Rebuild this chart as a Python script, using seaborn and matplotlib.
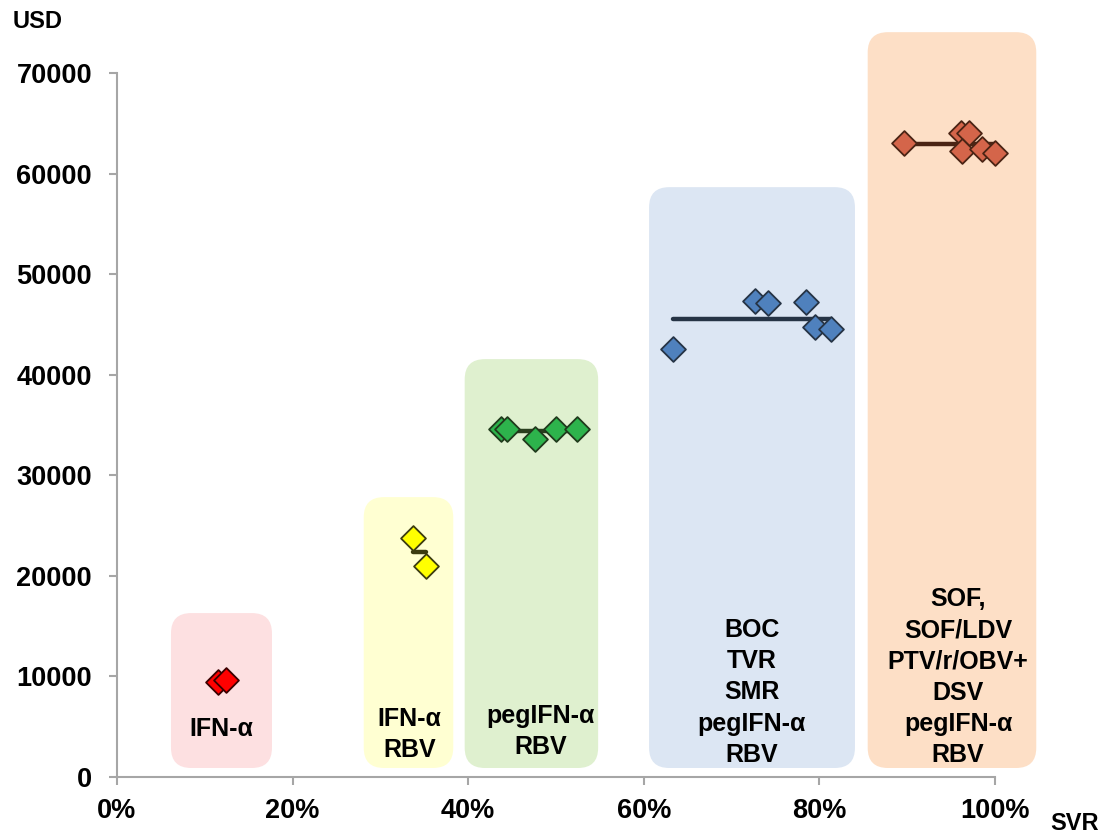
import pandas as pd
import matplotlib.pyplot as plt
import seaborn as sns
from matplotlib.patches import FancyBboxPatch
from matplotlib.ticker import PercentFormatter

# treatment groups (SVR in %, cost in USD)
groups = ['IFN', 'IFN_RBV', 'peg_RBV', 'DAA1', 'DAA2']
labels = ['IFN-α', 'IFN-α\nRBV', 'pegIFN-α\nRBV',
          'BOC\nTVR\nSMR\npegIFN-α\nRBV',
          'SOF,\nSOF/LDV\nPTV/r/OBV+\nDSV\npegIFN-α\nRBV']

svr_ifn = [11.5, 12.4]
usd_ifn = [9440, 9640]
svr_ifn_rbv = [33.7, 35.2]
usd_ifn_rbv = [23760, 20970]
svr_peg_rbv = [43.7, 44.4, 47.6, 50.0, 52.4]
usd_peg_rbv = [34590, 34590, 33600, 34590, 34590]
svr_daa1 = [63.3, 72.7, 74.2, 78.5, 79.5, 81.3]
usd_daa1 = [42575, 47316, 47087, 47246, 44761, 44503]
svr_daa2 = [89.6, 96.1, 97.0, 96.2, 98.5, 100.0]
usd_daa2 = [62992, 63986, 64046, 62256, 62396, 61998]

# background panels: (x0, x1, top) in data units
panels = [(6.15, 17.65, 16300), (28.1, 38.3, 27830), (39.6, 54.8, 41550),
          (60.6, 84.05, 58650), (85.5, 104.7, 74060)]
panel_bottom = 895

rows = []
for g, xs, ys in zip(groups,
                     [svr_ifn, svr_ifn_rbv, svr_peg_rbv, svr_daa1, svr_daa2],
                     [usd_ifn, usd_ifn_rbv, usd_peg_rbv, usd_daa1, usd_daa2]):
    for x, y in zip(xs, ys):
        rows.append({'group': g, 'svr': x, 'usd': y})
df = pd.DataFrame(rows)

face_colors = ['#FF0000', '#FFFF00', '#2DB34C', '#4F81BD', '#D4654A']
edge_colors = ['#3A0000', '#3C3C10', '#203A1C', '#263445', '#4A2414']
line_colors = ['#3A0000', '#3C3C10', '#2A3F1E', '#263445', '#4A2414']
panel_colors = ['#FDE0E1', '#FFFFD2', '#DFF0CF', '#DCE6F3', '#FDDFC6']
# label centers (x in %, y in USD)
label_pos = [(11.85, 4780), (33.3, 4230), (48.2, 4520), (72.3, 8420), (95.8, 9900)]

sns.set_style("white")
plt.rcParams['font.family'] = ['Liberation Sans', 'DejaVu Sans']
plt.rcParams['text.color'] = 'black'
plt.rcParams['xtick.color'] = 'black'
plt.rcParams['ytick.color'] = 'black'

fig = plt.figure(figsize=(11.13, 8.34), dpi=100)
ax = fig.add_axes([117 / 1113, 1 - 777 / 834, 878 / 1113, 704 / 834])

ax.set_xlim(0, 100)
ax.set_ylim(0, 70000)

# rounded background panels
x_px = 8.78
y_px = 0.01006
for (x0, x1, top), c in zip(panels, panel_colors):
    box = FancyBboxPatch((x0, panel_bottom), x1 - x0, top - panel_bottom,
                         boxstyle="round,pad=0,rounding_size=2.3",
                         mutation_aspect=x_px / y_px,
                         facecolor=c, edgecolor='none', clip_on=False, zorder=0)
    ax.add_patch(box)

# mean lines + points
for i, g in enumerate(groups):
    sub = df[df['group'] == g]
    if len(sub) > 1:
        ax.plot([sub['svr'].min(), sub['svr'].max()], [sub['usd'].mean()] * 2,
                color=line_colors[i], lw=3.2, solid_capstyle='round', zorder=2)
    sns.scatterplot(data=sub, x='svr', y='usd', marker='D', s=160,
                    color=face_colors[i], edgecolor=edge_colors[i],
                    linewidth=1.3, ax=ax, zorder=3, clip_on=False, legend=False)

for (lx, ly), txt in zip(label_pos, labels):
    ax.text(lx, ly, txt, ha='center', va='center', fontsize=18, color='black',
            fontweight='bold', linespacing=1.38, zorder=4)

for side in ['top', 'right']:
    ax.spines[side].set_visible(False)
for side in ['left', 'bottom']:
    ax.spines[side].set_color('#A6A6A6')
    ax.spines[side].set_linewidth(1.5)

ax.set_xticks([0, 20, 40, 60, 80, 100])
ax.xaxis.set_major_formatter(PercentFormatter(decimals=0))
ax.set_yticks(range(0, 70001, 10000))
ax.tick_params(axis='both', direction='out', length=6, width=1.5,
               color='#A6A6A6', labelcolor='black', labelsize=19.5,
               bottom=True, left=True)
ax.tick_params(axis='y', pad=12)
ax.tick_params(axis='x', pad=9)
for lab in ax.get_xticklabels() + ax.get_yticklabels():
    lab.set_fontweight('bold')
ax.set_xlabel('')
ax.set_ylabel('')
ax.grid(False)

fig.text(38 / 1113, 1 - 22 / 834, 'USD', ha='center', va='center',
         fontsize=17, fontweight='bold', color='black')
fig.text(1075 / 1113, 1 - 823 / 834, 'SVR', ha='center', va='center',
         fontsize=17, fontweight='bold', color='black')

fig.savefig('out.png', dpi=100)
